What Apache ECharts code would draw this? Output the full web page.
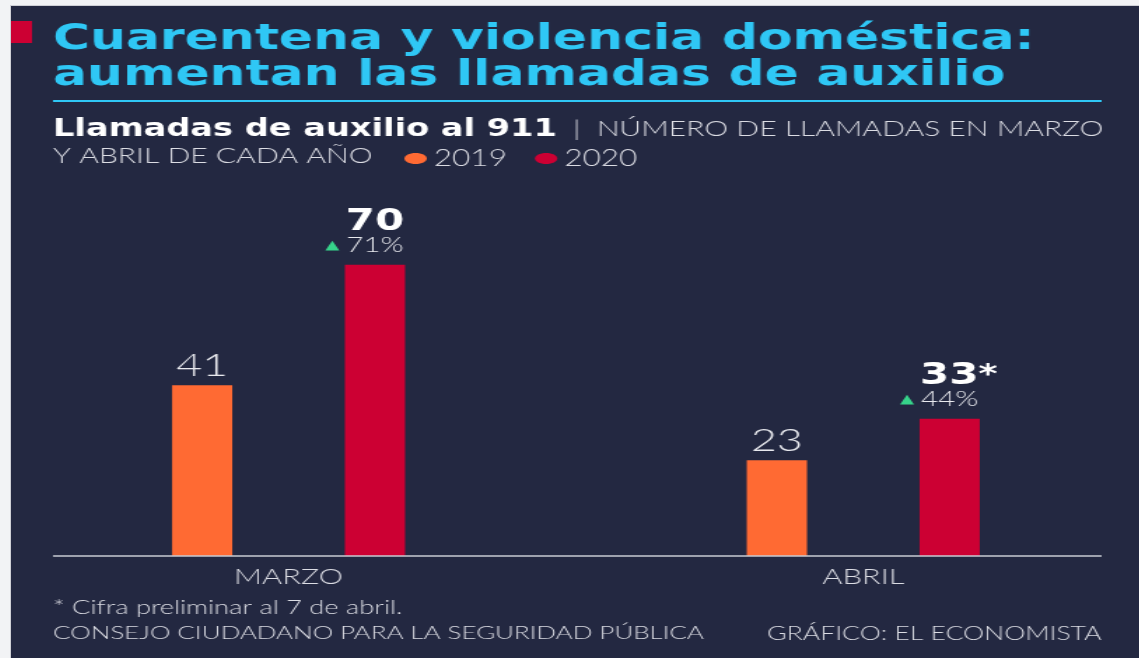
<!DOCTYPE html>
<html>
<head>
<meta charset="utf-8">
<script src="https://cdn.jsdelivr.net/npm/echarts@6/dist/echarts.min.js"></script>
<style>
  html, body { margin: 0; padding: 0; width: 1139px; height: 658px; overflow: hidden; background: #f2f3f5; }
  #frame {
    position: absolute; left: 10px; top: 5px; width: 1129px; height: 653px;
    background: #232841; border-top: 1px solid #cfd0d6; border-left: 1px solid #cfd0d6;
    box-sizing: border-box; overflow: hidden;
  }
  /* the reference is stretched horizontally, so draw narrow and stretch */
  #chart { width: 807px; height: 653px; transform: scaleX(1.4); transform-origin: 0 0; }
</style>
</head>
<body>
<div id="frame"><div id="chart"></div></div>
<script>
const categories = ['MARZO', 'ABRIL'];
const calls2019 = [41, 23];
const calls2020 = [70, 33];
const changePct = [71, 44];
const preliminary = [false, true];

const FONT = 'Lato, "Noto Sans", sans-serif';
const BOLD = '"DejaVu Sans", sans-serif';
const LIGHT = '#dcdde4';
// ellipse legend dot, 16 x 11
const DOT = 'path://M0,5.5C0,2.46 3.58,0 8,0C12.42,0 16,2.46 16,5.5C16,8.54 12.42,11 8,11C3.58,11 0,8.54 0,5.5Z';

const chart = echarts.init(document.getElementById('chart'));

const option = {
  backgroundColor: '#232841',
  animation: false,
  title: [
    {
      text: 'Cuarentena y violencia doméstica:\naumentan las llamadas de auxilio',
      left: 30, top: 16, padding: 0,
      textStyle: { color: '#2fc7f5', fontFamily: BOLD, fontWeight: 'bold', fontSize: 36, lineHeight: 36 }
    },
    {
      text: '{b|Llamadas de auxilio al 911}{l|  |  NÚMERO DE LLAMADAS EN MARZO}\n{l|Y ABRIL DE CADA AÑO}',
      left: 30, top: 110, padding: 0,
      textStyle: {
        rich: {
          b: { color: '#ffffff', fontFamily: BOLD, fontWeight: 'bold', fontSize: 24, lineHeight: 27 },
          l: { color: LIGHT, fontFamily: FONT, fontWeight: 300, fontSize: 21.5, lineHeight: 27 }
        }
      }
    },
    {
      text: '* Cifra preliminar al 7 de abril.',
      left: 30, top: 592, padding: 0,
      textStyle: { color: LIGHT, fontFamily: FONT, fontWeight: 300, fontSize: 19.5 }
    },
    {
      text: 'CONSEJO CIUDADANO PARA LA SEGURIDAD PÚBLICA',
      left: 30, top: 618, padding: 0,
      textStyle: { color: LIGHT, fontFamily: FONT, fontWeight: 300, fontSize: 18.5 }
    },
    {
      text: 'GRÁFICO: EL ECONOMISTA',
      right: 28, top: 618, padding: 0,
      textStyle: { color: LIGHT, fontFamily: FONT, fontWeight: 300, fontSize: 19 }
    }
  ],
  legend: {
    data: ['2019', '2020'],
    left: 281, top: 141, padding: 0,
    itemWidth: 16, itemHeight: 11, itemGap: 20,
    icon: DOT,
    symbolKeepAspect: false,
    textStyle: { color: LIGHT, fontFamily: FONT, fontWeight: 300, fontSize: 22.5 }
  },
  graphic: [
    { type: 'rect', shape: { x: 0, y: 15, width: 15, height: 22 }, style: { fill: '#cc0033' } },
    { type: 'line', shape: { x1: 30, y1: 95, x2: 779, y2: 95 }, style: { stroke: '#2fc7f5', lineWidth: 2 } },
    { type: 'line', z: 10, shape: { x1: 30, y1: 550, x2: 779, y2: 550 }, style: { stroke: '#c9cbd3', lineWidth: 1.5 } }
  ],
  grid: { left: -7, width: 821, top: 217, bottom: 103, outerBoundsMode: 'none' },
  xAxis: {
    type: 'category',
    data: categories,
    axisLine: { show: false },
    axisTick: { show: false },
    axisLabel: { color: LIGHT, fontFamily: FONT, fontWeight: 300, fontSize: 22, margin: 10 }
  },
  yAxis: { type: 'value', min: 0, max: 80, show: false },
  series: [
    {
      name: '2019',
      type: 'bar',
      data: calls2019,
      barWidth: 43,
      barGap: '187%',
      itemStyle: { color: '#ff6a33' },
      label: {
        show: true, position: 'top', distance: 4,
        color: '#e8e9ee', fontFamily: FONT, fontWeight: 300, fontSize: 32
      }
    },
    {
      name: '2020',
      type: 'bar',
      data: calls2020,
      barWidth: 43,
      itemStyle: { color: '#cc0033' },
      label: {
        show: true, position: 'top', distance: 8,
        formatter: p => {
          const i = p.dataIndex;
          const top = preliminary[i] ? `{bigp|${p.value}}{star|*}` : `{big|${p.value}}`;
          return `${top}\n{tri|▲}{pct|${changePct[i]}%}`;
        },
        rich: {
          big: { color: '#ffffff', fontFamily: BOLD, fontWeight: 'bold', fontSize: 30, lineHeight: 25 },
          bigp: { color: '#ffffff', fontFamily: BOLD, fontWeight: 'bold', fontSize: 30, lineHeight: 25, padding: [0, 0, 0, 13] },
          star: { color: '#ffffff', fontFamily: BOLD, fontWeight: 'bold', fontSize: 26, lineHeight: 25, verticalAlign: 'top' },
          tri: { color: '#36d38a', fontFamily: BOLD, fontSize: 13, lineHeight: 22, padding: [0, 5, 0, 0] },
          pct: { color: '#e8e9ee', fontFamily: FONT, fontWeight: 300, fontSize: 21, lineHeight: 22, padding: [0, 15, 0, 0] }
        }
      }
    }
  ]
};

chart.setOption(option);
</script>
</body>
</html>
